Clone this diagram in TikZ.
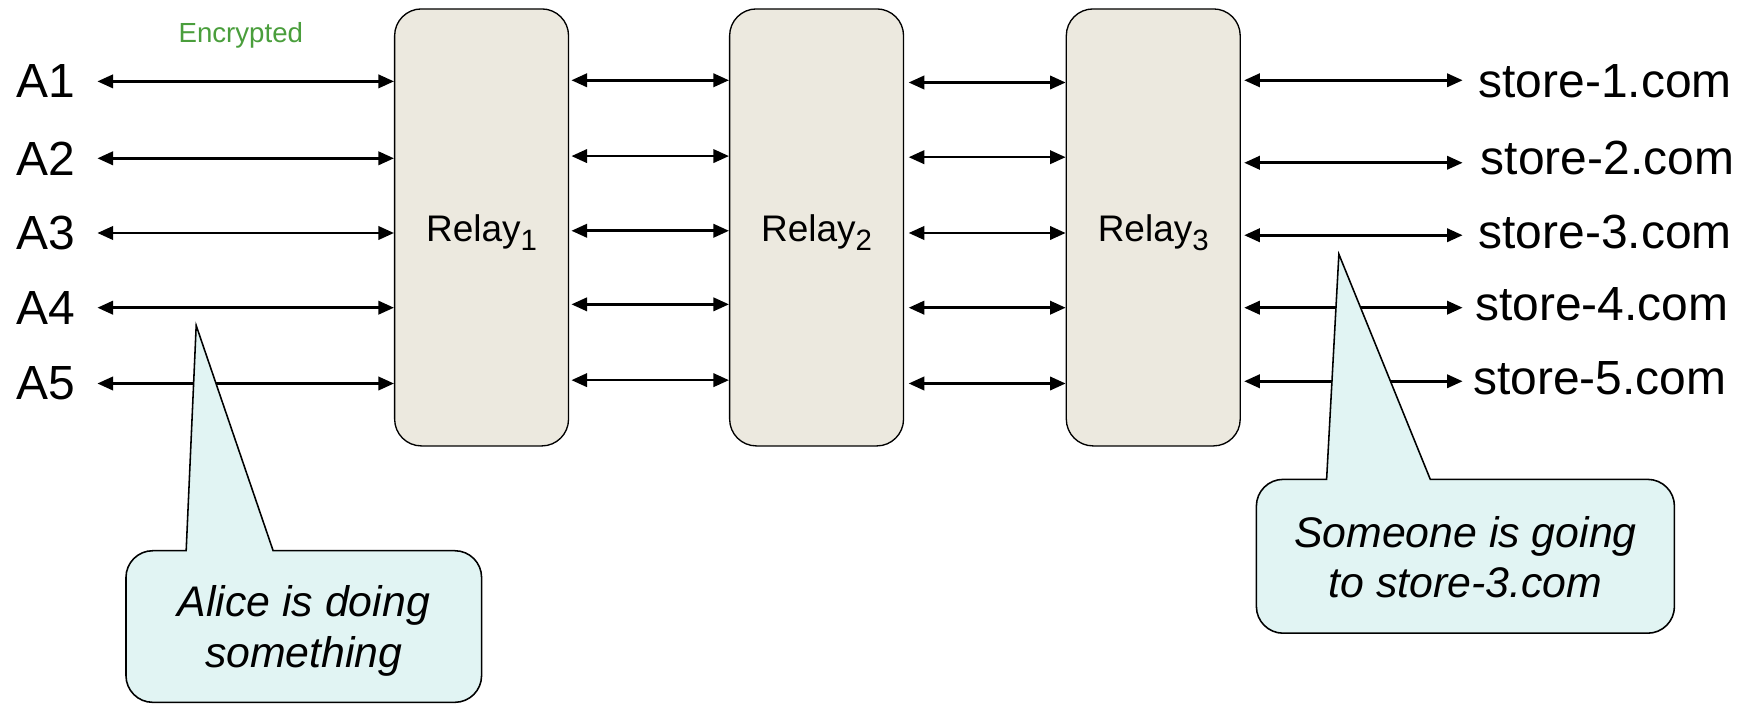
\documentclass[tikz,border=0pt]{standalone}
\usepackage{fontspec}
\setmainfont{Liberation Sans}
\usetikzlibrary{arrows.meta}
\definecolor{relayfill}{HTML}{ECE9DF}
\definecolor{callfill}{HTML}{E1F4F3}
\definecolor{encgreen}{HTML}{4A9E3C}
\begin{document}
\begin{tikzpicture}[x=0.5pt,y=-0.5pt,
  biarrow/.style={line width=1.15pt,{Triangle[length=7pt,width=6pt]}-{Triangle[length=7pt,width=6pt]}},
  relay/.style={draw,line width=0.6pt,fill=relayfill,rounded corners=12pt,minimum height=196pt,minimum width=78pt,inner sep=0pt},
  relaytext/.style={font=\fontsize{16.6}{19}\selectfont,inner sep=0pt,anchor=base},
  big/.style={font=\fontsize{21.5}{24}\selectfont,inner sep=0pt},
  calltext/.style={font=\fontsize{19.2}{22.5}\selectfont\itshape,align=center,inner sep=0pt},
  callout/.style={draw,line width=0.7pt,fill=callfill}]
\useasboundingbox (0,0) rectangle (1568,632);

% relays
\node[relay] (r1) at (432,204) {};
\node[relay] (r2) at (732.5,204) {};
\node[relay] (r3) at (1034.5,204) {};
\foreach \i in {1,2,3}{
  \node[relaytext] (t\i) at (r\i.center |- 0,217) {Relay\raisebox{-3.7pt}{\fontsize{13.2}{14}\selectfont\i}};
}

% encrypted label
\node[font=\fontsize{12.4}{14}\selectfont,text=encgreen,inner sep=0pt] (enc) at (216,32) {Encrypted};

% left labels
\foreach \i/\y in {1/73,2/142,3/209,4/276,5/344}{
  \node[big,anchor=west] (a\i) at (14,\y) {A\i};
  \draw[biarrow] ([xshift=10pt]a\i.east) -- (a\i.east -| r1.west);
}

% relay1 - relay2
\foreach \i/\y in {1/72,2/140,3/207,4/273,5/341}{
  \coordinate (m\i) at (583,\y);
  \draw[biarrow] ([xshift=1pt]r1.east |- m\i) -- (r2.west |- m\i);
}
% relay2 - relay3
\foreach \i/\y in {1/74,2/141,3/209,4/276,5/344}{
  \coordinate (n\i) at (885,\y);
  \draw[biarrow] ([xshift=2pt]r2.east |- n\i) -- (r3.west |- n\i);
}

% stores
\foreach \i/\x/\y/\ay in {1/1326/73/72,2/1328/142/146,3/1326/208/211,4/1323/273/276,5/1321/339/342}{
  \node[big,anchor=west] (s\i) at (\x,\y) {store-\i.com};
  \coordinate (e\i) at (1312,\ay);
  \draw[biarrow] ([xshift=1.5pt]r3.east |- e\i) -- (e\i);
}

% callouts
\draw[callout] (176,292) -- (245,494) [rounded corners=12pt] -- (432,494) -- (432,630) -- (113,630) -- (113,494) [sharp corners] -- (167,494) -- cycle;
\node[calltext] (alice) at (272.5,566) {Alice is doing\\something};

\draw[callout] (1201,228) -- (1283,430) [rounded corners=12pt] -- (1502,430) -- (1502,568) -- (1127,568) -- (1127,430) [sharp corners] -- (1190,430) -- cycle;
\node[calltext] (someone) at (1314.5,500) {Someone is going\\to store-3.com};
\end{tikzpicture}
\end{document}
